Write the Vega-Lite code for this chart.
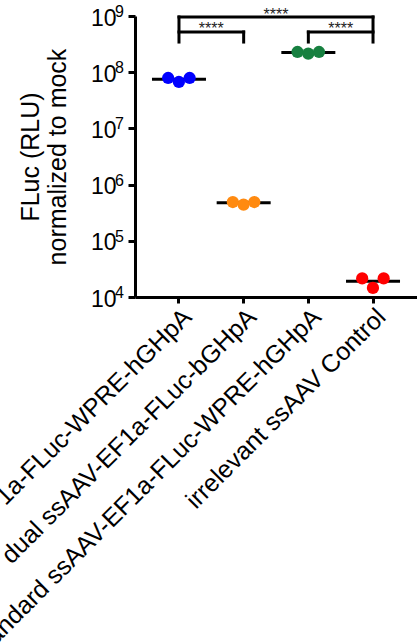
{
  "$schema": "https://vega.github.io/schema/vega-lite/v6.json",
  "autosize": {"type": "none"},
  "padding": {"left": 135, "top": 16, "right": 0, "bottom": 347},
  "width": 282,
  "height": 281,
  "config": {
    "view": {"stroke": null},
    "font": "Liberation Sans",
    "axis": {
      "domainColor": "black",
      "domainWidth": 3,
      "tickColor": "black",
      "tickWidth": 3,
      "labelColor": "black",
      "titleColor": "black",
      "grid": false,
      "labelFont": "Liberation Sans",
      "titleFont": "Liberation Sans"
    }
  },
  "datasets": {
    "points": [
      {"group": "dual ssAAV-EF1a-FLuc-WPRE-hGHpA", "rep": "a", "value": 78900000},
      {"group": "dual ssAAV-EF1a-FLuc-WPRE-hGHpA", "rep": "b", "value": 67000000},
      {"group": "dual ssAAV-EF1a-FLuc-WPRE-hGHpA", "rep": "c", "value": 78900000},
      {"group": "dual ssAAV-EF1a-FLuc-bGHpA", "rep": "a", "value": 490000},
      {"group": "dual ssAAV-EF1a-FLuc-bGHpA", "rep": "b", "value": 441000},
      {"group": "dual ssAAV-EF1a-FLuc-bGHpA", "rep": "c", "value": 490000},
      {"group": "standard ssAAV-EF1a-FLuc-WPRE-hGHpA", "rep": "a", "value": 229000000},
      {"group": "standard ssAAV-EF1a-FLuc-WPRE-hGHpA", "rep": "b", "value": 214000000},
      {"group": "standard ssAAV-EF1a-FLuc-WPRE-hGHpA", "rep": "c", "value": 229000000},
      {"group": "irrelevant ssAAV Control", "rep": "a", "value": 21400},
      {"group": "irrelevant ssAAV Control", "rep": "b", "value": 14500},
      {"group": "irrelevant ssAAV Control", "rep": "c", "value": 21400}
    ],
    "brackets": [
      {"x": 0, "x2": 3, "y": 960000000, "y2": 960000000},
      {"x": 0, "x2": 0, "y": 344000000, "y2": 960000000},
      {"x": 3, "x2": 3, "y": 344000000, "y2": 960000000},
      {"x": 0, "x2": 1, "y": 519000000, "y2": 519000000},
      {"x": 1, "x2": 1, "y": 344000000, "y2": 519000000},
      {"x": 2, "x2": 3, "y": 519000000, "y2": 519000000},
      {"x": 2, "x2": 2, "y": 344000000, "y2": 519000000}
    ],
    "stars": [
      {"x": 1.5, "y": 850000000, "label": "****"},
      {"x": 0.5, "y": 479000000, "label": "****"},
      {"x": 2.5, "y": 479000000, "label": "****"}
    ],
    "exponents": [
      {"v": 10000, "e": "4"},
      {"v": 100000, "e": "5"},
      {"v": 1000000, "e": "6"},
      {"v": 10000000, "e": "7"},
      {"v": 100000000, "e": "8"},
      {"v": 1000000000, "e": "9"}
    ]
  },
  "layer": [
    {
      "data": {"name": "points"},
      "encoding": {
        "x": {
          "field": "group",
          "type": "nominal",
          "sort": null,
          "scale": {
            "type": "band",
            "paddingInner": 0,
            "paddingOuter": 0.18,
            "domain": ["dual ssAAV-EF1a-FLuc-WPRE-hGHpA", "dual ssAAV-EF1a-FLuc-bGHpA", "standard ssAAV-EF1a-FLuc-WPRE-hGHpA", "irrelevant ssAAV Control"]
          },
          "axis": {
            "title": null,
            "labelAngle": -45,
            "labelAlign": "right",
            "labelBaseline": "top",
            "labelFontSize": 25,
            "labelLimit": 1000,
            "labelOverlap": false,
            "labelBound": false,
            "tickSize": 6,
            "labelPadding": 1
          }
        }
      },
      "layer": [
        {
          "mark": {"type": "tick", "color": "black", "thickness": 3, "size": 54},
          "encoding": {
            "y": {
              "aggregate": "mean",
              "field": "value",
              "type": "quantitative",
              "scale": {"type": "log", "domain": [10000, 1000000000], "nice": false},
              "axis": {
                "values": [10000, 100000, 1000000, 10000000, 100000000, 1000000000],
                "labelExpr": "'10'",
                "labelFontSize": 23,
                "labelBaseline": "middle",
                "labelOffset": 2,
                "tickSize": 7,
                "labelPadding": 12,
                "title": ["FLuc (RLU)", "normalized to mock"],
                "titleFontSize": 25,
                "titleFontWeight": "normal",
                "titlePadding": 20,
                "titleLineHeight": 27
              }
            }
          }
        },
        {
          "mark": {"type": "circle", "size": 150, "opacity": 1},
          "encoding": {
            "xOffset": {"field": "rep", "type": "nominal", "scale": {"type": "point", "domain": ["a", "b", "c"], "range": [21.5, 43], "padding": 0}},
            "y": {"field": "value", "type": "quantitative"},
            "color": {
              "field": "group",
              "type": "nominal",
              "scale": {
                "domain": ["dual ssAAV-EF1a-FLuc-WPRE-hGHpA", "dual ssAAV-EF1a-FLuc-bGHpA", "standard ssAAV-EF1a-FLuc-WPRE-hGHpA", "irrelevant ssAAV Control"],
                "range": ["#0000ff", "#ff8a10", "#178040", "#ff0000"]
              },
              "legend": null
            }
          }
        }
      ]
    },
    {
      "layer": [
        {
          "data": {"name": "brackets"},
          "mark": {"type": "rule", "color": "black", "strokeWidth": 3, "strokeCap": "square"},
          "encoding": {
            "x": {"field": "x", "type": "quantitative", "scale": {"domain": [-0.68, 3.68], "nice": false, "zero": false}, "axis": null},
            "x2": {"field": "x2"},
            "y": {"field": "y", "type": "quantitative"},
            "y2": {"field": "y2"}
          }
        },
        {
          "data": {"name": "stars"},
          "mark": {"type": "text", "fontSize": 16, "color": "#222222", "baseline": "alphabetic", "align": "center"},
          "encoding": {
            "x": {"field": "x", "type": "quantitative"},
            "y": {"field": "y", "type": "quantitative"},
            "text": {"field": "label"}
          }
        },
        {
          "data": {"name": "exponents"},
          "mark": {"type": "text", "fontSize": 16, "color": "black", "baseline": "middle", "align": "left", "dx": -20, "dy": -4, "clip": false},
          "encoding": {
            "x": {"datum": -0.68, "type": "quantitative"},
            "y": {"field": "v", "type": "quantitative"},
            "text": {"field": "e"}
          }
        }
      ]
    }
  ],
  "resolve": {"scale": {"x": "independent"}}
}
